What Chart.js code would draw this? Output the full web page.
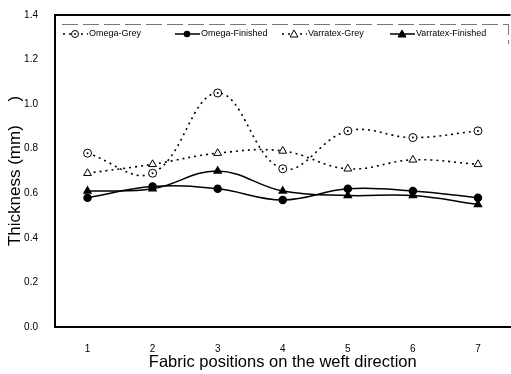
<!DOCTYPE html>
<html>
<head>
<meta charset="utf-8">
<script src="https://cdn.jsdelivr.net/npm/chart.js@4"></script>
<style>
  html, body { margin: 0; padding: 0; background: #fff; overflow: hidden; }
  #wrap { width: 516px; height: 374px; }
</style>
</head>
<body>
<div id="wrap"><canvas id="thicknessChart"></canvas></div>
<script>
var positions = ['1', '2', '3', '4', '5', '6', '7'];
var omegaGrey = [0.78, 0.69, 1.05, 0.71, 0.88, 0.85, 0.88];
var omegaFinished = [0.58, 0.63, 0.62, 0.57, 0.62, 0.61, 0.58];
var varratexGrey = [0.69, 0.73, 0.78, 0.79, 0.71, 0.75, 0.73];
var varratexFinished = [0.61, 0.62, 0.70, 0.61, 0.59, 0.59, 0.55];
var seriesNames = ['Omega-Grey', 'Omega-Finished', 'Varratex-Grey', 'Varratex-Finished'];

// small dot in the middle of the open circles + top frame line
var extras = {
    id: 'extras',
    afterDatasetsDraw: function(chart) {
        var ctx = chart.ctx, a = chart.chartArea;
        ctx.save();
        ctx.strokeStyle = '#000';
        ctx.lineWidth = 2;
        ctx.beginPath(); ctx.moveTo(a.left, a.top); ctx.lineTo(a.right, a.top); ctx.stroke();
        ctx.fillStyle = '#000';
        chart.getDatasetMeta(0).data.forEach(function(pt) {
            ctx.beginPath(); ctx.arc(pt.x, pt.y, 1, 0, Math.PI * 2); ctx.fill();
        });
        ctx.restore();
    }
};

// legend drawn inside the plot, like the original
var insideLegend = {
    id: 'insideLegend',
    afterDraw: function(chart) {
        var ctx = chart.ctx;
        ctx.save();
        ctx.strokeStyle = '#777';
        ctx.lineWidth = 1;
        ctx.setLineDash([16, 5]);
        ctx.beginPath();
        ctx.moveTo(62, 24.5); ctx.lineTo(508.5, 24.5); ctx.lineTo(508.5, 44);
        ctx.stroke();
        var xs = [63, 175, 282, 390];
        var y = 34;
        ctx.font = '9px "Liberation Sans", Arial, sans-serif';
        ctx.textBaseline = 'middle';
        chart.data.datasets.forEach(function(ds, i) {
            var x = xs[i];
            ctx.strokeStyle = '#000';
            ctx.lineWidth = ds.borderWidth;
            ctx.setLineDash(ds.borderDash || []);
            ctx.beginPath(); ctx.moveTo(x, y); ctx.lineTo(x + 25, y); ctx.stroke();
            ctx.setLineDash([]);
            var cx = x + 12;
            ctx.lineWidth = 1;
            if (i === 0) {
                ctx.fillStyle = '#fff';
                ctx.beginPath(); ctx.arc(cx, y, 3.5, 0, Math.PI * 2); ctx.fill(); ctx.stroke();
                ctx.fillStyle = '#000';
                ctx.beginPath(); ctx.arc(cx, y, 0.9, 0, Math.PI * 2); ctx.fill();
            } else if (i === 1) {
                ctx.fillStyle = '#000';
                ctx.beginPath(); ctx.arc(cx, y, 3.3, 0, Math.PI * 2); ctx.fill();
            } else {
                ctx.fillStyle = i === 2 ? '#fff' : '#000';
                ctx.beginPath();
                ctx.moveTo(cx, y - 4); ctx.lineTo(cx + 4, y + 3); ctx.lineTo(cx - 4, y + 3);
                ctx.closePath(); ctx.fill(); ctx.stroke();
            }
            ctx.fillStyle = '#000';
            ctx.fillText(ds.label, x + 26, y);
        });
        ctx.restore();
    }
};

var ctx = document.getElementById('thicknessChart').getContext('2d');
var chart = new Chart(ctx, {
    type: 'line',
    data: {
        labels: positions,
        datasets: [{
            label: seriesNames[0],
            data: omegaGrey,
            borderColor: '#000',
            backgroundColor: '#fff',
            borderWidth: 1.6,
            borderDash: [2, 4],
            pointStyle: 'circle',
            pointRadius: 4,
            pointBorderWidth: 1,
            tension: 0.4
        }, {
            label: seriesNames[1],
            data: omegaFinished,
            borderColor: '#000',
            backgroundColor: '#000',
            borderWidth: 1.5,
            pointStyle: 'circle',
            pointRadius: 3.5,
            tension: 0.4
        }, {
            label: seriesNames[2],
            data: varratexGrey,
            borderColor: '#000',
            backgroundColor: '#fff',
            borderWidth: 1.6,
            borderDash: [2, 4],
            pointStyle: 'triangle',
            pointRadius: 4.5,
            pointBorderWidth: 1,
            tension: 0.4
        }, {
            label: seriesNames[3],
            data: varratexFinished,
            borderColor: '#000',
            backgroundColor: '#000',
            borderWidth: 1.5,
            pointStyle: 'triangle',
            pointRadius: 4,
            tension: 0.4
        }]
    },
    options: {
        responsive: true,
        maintainAspectRatio: false,
        animation: false,
        layout: { padding: { top: 13, right: 0, left: 0, bottom: 0 } },
        plugins: {
            legend: { display: false },
            tooltip: { enabled: false }
        },
        scales: {
            x: {
                offset: true,
                grid: { display: false },
                border: { display: true, color: '#000', width: 2 },
                ticks: {
                    color: '#000',
                    padding: 8,
                    font: { family: '"Liberation Sans", Arial, sans-serif', size: 10 }
                },
                title: {
                    display: true,
                    text: 'Fabric positions on the weft direction',
                    color: '#000',
                    padding: { top: 0, bottom: 2 },
                    font: { family: '"Liberation Sans", Arial, sans-serif', size: 16.5 }
                },
                afterFit: function(scale) {
                    scale.height = 47;
                    scale.paddingLeft = 0;
                    scale.paddingRight = 0;
                }
            },
            y: {
                min: 0,
                max: 1.4,
                grid: { display: false },
                border: { display: true, color: '#000', width: 2 },
                ticks: {
                    stepSize: 0.2,
                    color: '#000',
                    padding: 9,
                    font: { family: '"Liberation Sans", Arial, sans-serif', size: 10 },
                    callback: function(v) { return v.toFixed(1); }
                },
                title: {
                    display: true,
                    text: 'Thickness (mm)     )',
                    color: '#000',
                    padding: { top: 5, bottom: 0 },
                    font: { family: '"Liberation Sans", Arial, sans-serif', size: 17 }
                },
                afterFit: function(scale) { scale.width = 55; }
            }
        }
    },
    plugins: [extras, insideLegend]
});
</script>
</body>
</html>
